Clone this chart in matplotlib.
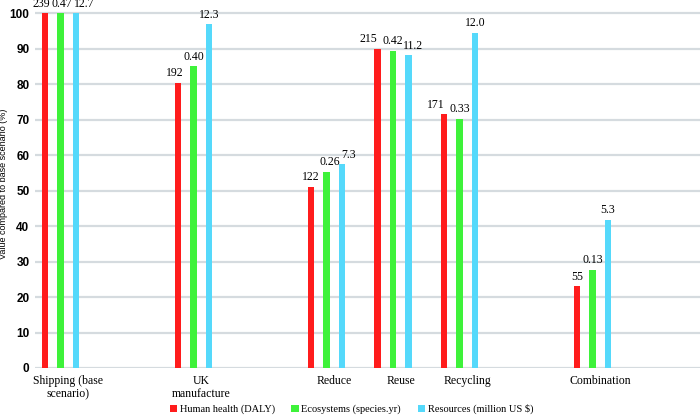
import numpy as np
import matplotlib
matplotlib.use("Agg")
import matplotlib.pyplot as plt

# scenario names and their slot on the category axis (some slots are empty)
scenarios = ["Shipping (base\nscenario)", "UK\nmanufacture", "Reduce", "Reuse", "Recycling", "Combination"]
slots = [0, 2, 4, 5, 6, 8]

# absolute values per impact category
human_health = [239, 192, 122, 215, 171, 55]
ecosystems = [0.47, 0.40, 0.26, 0.42, 0.33, 0.13]
resources = [12.7, 12.3, 7.3, 11.2, 12.0, 5.3]

# displayed labels (as printed in the chart)
hh_labels = ["239", "192", "122", "215", "171", "55"]
eco_labels = ["0.47", "0.40", "0.26", "0.42", "0.33", "0.13"]
res_labels = ["12.7", "12.3", "7.3", "11.2", "12.0", "5.3"]

series = [
    ("Human health (DALY)", human_health, hh_labels, "#ff1c1c"),
    ("Ecosystems (species.yr)", ecosystems, eco_labels, "#3ef23a"),
    ("Resources (million US $)", resources, res_labels, "#55d9fb"),
]

# labels were nudged sideways by hand in the original so they don't collide (points)
label_nudge = [
    [-3, -2, 0, -6.5, -6, 0],
    [1, 0, 2.5, 0, 0, 0],
    [6, 0, 4.5, 3, 0, 0],
]

fig = plt.figure(figsize=(7, 4.16), dpi=100)
ax = fig.add_axes([0.05, 48 / 416, 0.95, 368 / 416])

x = np.array(slots, dtype=float)
step = 0.233
width = 0.105
for i, (name, vals, labs, col) in enumerate(series):
    vals = np.array(vals, dtype=float)
    pct = vals / vals[0] * 100
    pos = x + (i - 1.5) * step
    ax.bar(pos, pct, width, color=col, label=name, zorder=3)
    for p, v, t, dx in zip(pos, pct, labs, label_nudge[i]):
        ax.annotate(t, (p, v), xytext=(dx, 2.5), textcoords="offset points",
                    ha="center", va="bottom", fontsize=8.5,
                    family="Liberation Serif", annotation_clip=False)

ax.set_xlim(-0.5, 9.5)
ax.set_ylim(0, 103.7)
ax.set_yticks(range(0, 101, 10))
ax.yaxis.grid(True, color="#d5dbdf", linewidth=1.6, zorder=0)
ax.set_axisbelow(True)
for s in ax.spines.values():
    s.set_visible(False)
ax.tick_params(axis="y", length=0, pad=4)
ax.tick_params(axis="x", length=0, pad=5)
for lab in ax.get_yticklabels():
    lab.set_fontfamily("Liberation Sans")
    lab.set_fontweight("bold")
    lab.set_fontsize(8.5)

ax.set_xticks(slots)
ax.set_xticklabels(scenarios, family="Liberation Serif", fontsize=8.5, linespacing=1.15)
ax.set_ylabel("Value compared to base scenario (%)", family="Liberation Sans",
              fontsize=6.5, labelpad=4)
ax.yaxis.set_label_coords(-0.04, 0.5)

fig.legend(loc="lower center", bbox_to_anchor=(0.502, -0.018), ncol=3, frameon=False,
           prop={"family": "Liberation Serif", "size": 7.5}, handlelength=0.7,
           handleheight=0.7, handletextpad=0.25, columnspacing=1.6)

fig.savefig("out.png", dpi=100)
